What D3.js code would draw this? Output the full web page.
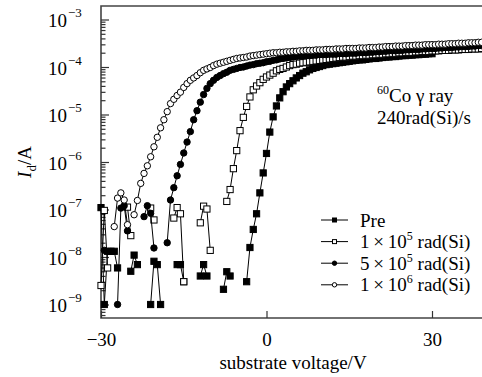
<!DOCTYPE html>
<html lang="en">

<head>
    <meta charset="utf-8">
    <script src="https://d3js.org/d3.v7.min.js"></script>

    <style>
        body {
            margin: 0;
            background: #fff;
        }

        svg,
        svg text {
            font-family: "Liberation Serif", "DejaVu Serif", serif !important;
            fill: #000;
        }

        .axis path {
            display: none;
        }

        .axis line {
            stroke: #333;
            stroke-width: 1.2;
        }

        .frame {
            stroke: #444;
            stroke-width: 1.6;
            fill: none;
        }

        .curve {
            fill: none;
            stroke: #000;
            stroke-width: 1;
        }
    </style>
</head>

<body>
    <svg width="482" height="377" font-family="Liberation Serif, serif"></svg>

    <script>
        // substrate voltage (V), shared by all sweeps
        var voltages = [
            -30, -29.4, -28.8, -28.2, -27.6, -27, -26.4, -25.8, -25.2, -24.6,
            -24, -23.4, -22.8, -22.2, -21.6, -21, -20.4, -19.8, -19.2, -18.6,
            -18, -17.4, -16.8, -16.2, -15.6, -15, -14.4, -13.8, -13.2, -12.6,
            -12, -11.4, -10.8, -10.2, -9.6, -9, -8.4, -7.8, -7.2, -6.6,
            -6, -5.4, -4.8, -4.2, -3.6, -3, -2.4, -1.8, -1.2, -0.6,
            0, 0.6, 1.2, 1.8, 2.4, 3, 3.6, 4.2, 4.8, 5.4,
            6, 6.6, 7.2, 7.8, 8.4, 9, 9.6, 10.2, 10.8, 11.4,
            12, 12.6, 13.2, 13.8, 14.4, 15, 15.6, 16.2, 16.8, 17.4,
            18, 18.6, 19.2, 19.8, 20.4, 21, 21.6, 22.2, 22.8, 23.4,
            24, 24.6, 25.2, 25.8, 26.4, 27, 27.6, 28.2, 28.8, 29.4,
            30, 30.6, 31.2, 31.8, 32.4, 33, 33.6, 34.2, 34.8, 35.4,
            36, 36.6, 37.2, 37.8, 38.4, 39
        ];

        // log10 of Id (A); null = no point measured / below range
        var pre = [
            -6.96, -9.0, -7.88, -7.88, -7.88, -8.23, null, null, null, -8.30,
            -7.96, -8.16, null, null, null, -9.0, -8.09, -8.16, -9.0, null,
            null, null, null, -8.16, -8.16, -8.52, null, null, null, null,
            -8.40, -8.16, -8.40, null, null, null, null, -8.68, -8.31, -8.40,
            null, null, null, null, -8.52, -7.80, -7.42, -7.09, -6.65, -6.23,
            -5.82, -5.37, -5.05, -4.82, -4.65, -4.52, -4.42, -4.35, -4.29, -4.23,
            -4.18, -4.13, -4.10, -4.06, -4.03, -4.01, -3.99, -3.97, -3.95, -3.94,
            -3.93, -3.92, -3.91, -3.90, -3.89, -3.88, -3.87, -3.86, -3.85, -3.85,
            -3.84, -3.83, -3.82, -3.82, -3.81, -3.80, -3.79, -3.79, -3.78, -3.78,
            -3.77, -3.76, -3.76, -3.75, -3.75, -3.74, -3.74, -3.73, -3.73, -3.72,
            -3.72
        ];

        var dose1e5 = [
            -8.6, -7.02, -8.23, null, null, null, null, null, -6.95, -7.55,
            null, null, null, null, null, -6.97, -7.22, null, null, null,
            null, null, -7.18, -6.96, -7.09, -8.52, null, null, null, null,
            -7.28, -6.93, -6.99, -7.86, null, null, null, null, -6.83, -6.58,
            -6.14, -5.76, -5.34, -5.06, -4.83, -4.63, -4.48, -4.40, -4.33, -4.26,
            -4.21, -4.17, -4.13, -4.08, -4.05, -4.03, -4.00, -3.97, -3.95, -3.94,
            -3.92, -3.91, -3.90, -3.89, -3.88, -3.87, -3.86, -3.85, -3.84, -3.83,
            -3.82, -3.81, -3.80, -3.79, -3.79, -3.78, -3.77, -3.77, -3.76, -3.76,
            -3.75, -3.75, -3.74, -3.74, -3.73, -3.73, -3.72, -3.72, -3.71, -3.71,
            -3.70, -3.70, -3.69, -3.69, -3.69, -3.68, -3.68, -3.67, -3.67, -3.67,
            -3.66, -3.66, -3.66, -3.65, -3.65, -3.65, -3.64, -3.64, -3.64, -3.63,
            -3.63, -3.63, -3.62, -3.62, -3.62, -3.61
        ];

        var dose5e5 = [
            null, -7.86, null, null, null, -9.0, -6.97, -6.92, -7.45, null,
            null, null, null, -7.15, -6.92, -7.08, -7.81, null, null, null,
            -7.70, -6.80, -6.54, -6.29, -6.05, -5.81, -5.58, -5.36, -5.11, -4.92,
            -4.74, -4.58, -4.45, -4.35, -4.28, -4.22, -4.18, -4.14, -4.11, -4.07,
            -4.05, -4.03, -4.01, -4.00, -3.98, -3.96, -3.95, -3.93, -3.92, -3.91,
            -3.89, -3.88, -3.86, -3.85, -3.83, -3.82, -3.81, -3.80, -3.79, -3.78,
            -3.77, -3.77, -3.76, -3.76, -3.75, -3.75, -3.74, -3.74, -3.74, -3.73,
            -3.73, -3.73, -3.72, -3.72, -3.72, -3.71, -3.71, -3.71, -3.70, -3.70,
            -3.70, -3.69, -3.69, -3.68, -3.68, -3.67, -3.67, -3.66, -3.66, -3.66,
            -3.65, -3.65, -3.64, -3.64, -3.63, -3.63, -3.63, -3.62, -3.62, -3.61,
            -3.61, -3.61, -3.60, -3.60, -3.59, -3.59, -3.59, -3.58, -3.58, -3.57,
            -3.57, -3.57, -3.56, -3.56, -3.55, -3.55
        ];

        var dose1e6 = [
            null, null, null, null, -7.36, -6.76, -6.65, -6.80, -7.32, null,
            -7.11, -6.81, -6.45, -6.24, -6.08, -5.89, -5.68, -5.48, -5.28, -5.11,
            -4.94, -4.77, -4.68, -4.60, -4.53, -4.43, -4.35, -4.28, -4.23, -4.18,
            -4.12, -4.07, -4.04, -4.01, -3.97, -3.94, -3.92, -3.90, -3.88, -3.86,
            -3.84, -3.82, -3.81, -3.80, -3.79, -3.77, -3.76, -3.75, -3.74, -3.73,
            -3.72, -3.71, -3.70, -3.70, -3.69, -3.69, -3.68, -3.68, -3.67, -3.67,
            -3.66, -3.66, -3.65, -3.65, -3.65, -3.64, -3.64, -3.64, -3.63, -3.63,
            -3.63, -3.62, -3.62, -3.62, -3.61, -3.61, -3.61, -3.61, -3.60, -3.60,
            -3.60, -3.59, -3.59, -3.59, -3.58, -3.58, -3.57, -3.57, -3.57, -3.56,
            -3.56, -3.56, -3.55, -3.55, -3.55, -3.54, -3.54, -3.54, -3.53, -3.53,
            -3.53, -3.53, -3.52, -3.52, -3.52, -3.51, -3.51, -3.51, -3.50, -3.50,
            -3.50, -3.49, -3.49, -3.49, -3.48, -3.48
        ];

        var xTicks = [-30, 0, 30];
        var yTicks = [1e-9, 1e-8, 1e-7, 1e-6, 1e-5, 1e-4, 1e-3];
        var yTickExp = ["\u22129", "\u22128", "\u22127", "\u22126", "\u22125", "\u22124", "\u22123"];

        var series = [
            { label: ["Pre"], values: pre, shape: "square", fill: "#000" },
            { label: ["1\u2009\u00d7\u200910", "5", " rad(Si)"], values: dose1e5, shape: "square", fill: "#fff" },
            { label: ["5\u2009\u00d7\u200910", "5", " rad(Si)"], values: dose5e5, shape: "circle", fill: "#000" },
            { label: ["1\u2009\u00d7\u200910", "6", " rad(Si)"], values: dose1e6, shape: "circle", fill: "#fff" }
        ];

        var svg = d3.select("svg"),
            frame = { left: 101, top: 6, bottom: 318, right: 500 };

        //scales
        var x = d3.scaleLinear().domain([-30, 30]).range([101, 432]);
        var y = d3.scaleLog().domain([1e-9, 1e-3]).range([304.5, 19.5]);

        //frame (right side is cut off in the figure)
        svg.append("path")
            .attr("class", "frame")
            .attr("d", "M" + frame.right + "," + frame.top + "H" + frame.left + "V" + frame.bottom + "H" + frame.right);

        //y ticks, major and minor, pointing inwards
        var minor = [];
        for (var k = -10; k <= -3; k++) {
            for (var m = 2; m <= 9; m++) {
                var t = m * Math.pow(10, k);
                if (y(t) > frame.top + 1 && y(t) < frame.bottom - 1) minor.push(t);
            }
        }
        svg.append("g")
            .attr("class", "axis")
            .attr("transform", "translate(" + frame.left + ",0)")
            .call(d3.axisRight(y).tickValues(minor).tickSize(4.5).tickFormat(""));
        svg.append("g")
            .attr("class", "axis")
            .attr("transform", "translate(" + frame.left + ",0)")
            .call(d3.axisRight(y).tickValues(yTicks).tickSize(8).tickFormat(""));

        //y tick labels 10^n
        var ylab = svg.append("g").selectAll("text")
            .data(yTicks)
            .enter().append("text")
            .attr("x", 48)
            .attr("y", function (d) { return y(d) + 7.5; })
            .style("font-size", "19px");
        ylab.append("tspan").text("10");
        ylab.append("tspan")
            .attr("dy", -10)
            .attr("dx", 1)
            .style("font-size", "13px")
            .text(function (d, i) { return yTickExp[i]; });

        //x axis ticks
        var xa = svg.append("g")
            .attr("class", "axis")
            .attr("transform", "translate(0," + frame.bottom + ")")
            .call(d3.axisBottom(x).tickValues(xTicks).tickSizeInner(-7).tickSizeOuter(0).tickPadding(15)
                .tickFormat(function (d) { return d < 0 ? "\u2212" + Math.abs(d) : d; }));
        xa.attr("font-family", null);
        xa.selectAll("text").style("font-size", "19px");

        //axis titles
        svg.append("text")
            .attr("x", 293)
            .attr("y", 369)
            .attr("text-anchor", "middle")
            .style("font-size", "19px")
            .text("substrate voltage/V");

        var yt = svg.append("text")
            .attr("transform", "translate(31,162) rotate(-90)")
            .attr("text-anchor", "middle")
            .style("font-size", "19px");
        yt.append("tspan").style("font-style", "italic").text("I");
        yt.append("tspan").attr("dy", 5).style("font-size", "13px").text("d");
        yt.append("tspan").attr("dy", -5).text("/A");

        //curves and markers
        var line = d3.line()
            .defined(function (d) { return d.c != null; })
            .x(function (d) { return x(d.v); })
            .y(function (d) { return y(d.c); });

        series.forEach(function (s) {
            var pts = s.values.map(function (v, i) {
                return { v: voltages[i], c: v == null ? null : Math.pow(10, v) };
            });
            var g = svg.append("g");
            g.append("path").attr("class", "curve").attr("d", line(pts));
            var ok = pts.filter(function (d) { return d.c != null; });
            if (s.shape == "square") {
                g.selectAll("rect").data(ok).enter().append("rect")
                    .attr("x", function (d) { return x(d.v) - 3.1; })
                    .attr("y", function (d) { return y(d.c) - 3.1; })
                    .attr("width", 6.2).attr("height", 6.2)
                    .attr("fill", s.fill).attr("stroke", "#000").attr("stroke-width", 1);
            } else {
                g.selectAll("circle").data(ok).enter().append("circle")
                    .attr("cx", function (d) { return x(d.v); })
                    .attr("cy", function (d) { return y(d.c); })
                    .attr("r", 3.2)
                    .attr("fill", s.fill).attr("stroke", "#000").attr("stroke-width", 1);
            }
        });

        //annotation
        var ann = svg.append("text").attr("x", 377).attr("y", 101.5).style("font-size", "19px");
        ann.append("tspan").attr("dy", -8).style("font-size", "12px").text("60");
        ann.append("tspan").attr("dy", 8).text("Co \u03b3 ray");
        svg.append("text").attr("x", 377).attr("y", 124).style("font-size", "19px").text("240rad(Si)/s");

        //legend
        var leg = svg.append("g").selectAll("g")
            .data(series)
            .enter().append("g")
            .attr("transform", function (d, i) { return "translate(0," + (220 + i * 21.6) + ")"; });
        leg.append("line")
            .attr("x1", 321).attr("x2", 348)
            .attr("stroke", "#000").attr("stroke-width", 1);
        leg.each(function (s) {
            var g = d3.select(this);
            if (s.shape == "square") {
                g.append("rect").attr("x", 332.5).attr("y", -2).attr("width", 4).attr("height", 4)
                    .attr("fill", s.fill).attr("stroke", "#000").attr("stroke-width", 1);
            } else {
                g.append("circle").attr("cx", 334.5).attr("cy", 0).attr("r", 2.2)
                    .attr("fill", s.fill).attr("stroke", "#000").attr("stroke-width", 1);
            }
            var t = g.append("text").attr("x", 360).attr("y", 6.5).style("font-size", "19px");
            t.append("tspan").text(s.label[0]);
            if (s.label.length > 1) {
                t.append("tspan").attr("dy", -8).style("font-size", "12px").text(s.label[1]);
                t.append("tspan").attr("dy", 8).text(s.label[2]);
            }
        });
    </script>
</body>

</html>
